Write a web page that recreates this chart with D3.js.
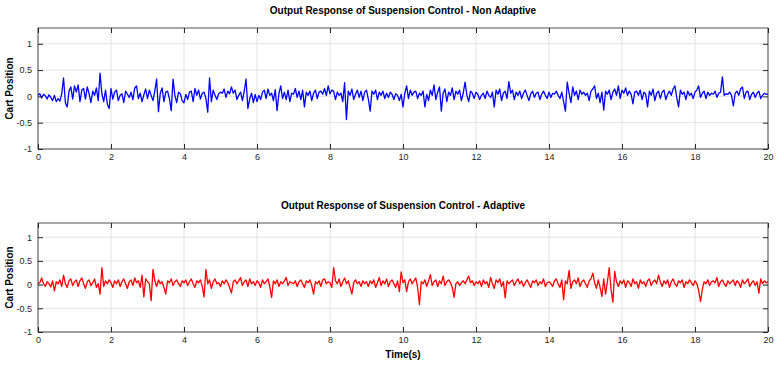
<!DOCTYPE html>
<html>
<head>
<meta charset="utf-8">
<script src="https://d3js.org/d3.v7.min.js"></script>
<style>
  body { margin: 0; background: #fff; }
  svg { display: block; font-family: "Liberation Sans", Arial, sans-serif; }
</style>
</head>
<body>
<svg id="chart"></svg>
<script>
const width = 776;
const height = 366;

// time step of the sampled signals (s)
const dt = 0.05;
const xTicks = [0, 2, 4, 6, 8, 10, 12, 14, 16, 18, 20];
const yTicks = [-1, -0.5, 0, 0.5, 1];

// Non adaptive response, one row per second
const nonAdaptive = [
  0.02,0.05,-0.03,0.04,0.01,-0.05,0.03,-0.02,-0.08,0.02,-0.1,-0.04,-0.09,0.05,0.35,-0.12,-0.2,0.1,0.18,-0.05,
  0.2,0.08,0.22,-0.1,0.12,0.15,-0.05,0.18,0.05,-0.12,0.1,0.02,0.16,-0.08,0.44,0.05,-0.1,0.12,-0.15,-0.23,
  0.15,-0.05,0.08,0.12,-0.08,0.02,0.05,-0.12,0.1,0.04,-0.02,0.08,-0.06,0.16,0.2,-0.04,0.06,-0.1,0.03,0.14,
  -0.04,0.12,0.02,-0.08,0.1,0.33,-0.29,0.06,0.16,-0.1,0.08,0.1,-0.04,-0.27,0.33,0.02,-0.12,0.08,0.05,-0.08,
  -0.12,0.04,-0.06,0.08,0.1,-0.1,0.15,0.02,0.12,-0.05,0.06,0.08,-0.04,-0.3,0.35,-0.1,0.12,0.02,-0.06,0.05,
  0.08,0.06,0.14,-0.02,0.1,0.05,0.18,0.06,0.12,-0.06,0.02,0.08,-0.08,0.1,0.33,-0.23,-0.05,0.06,-0.12,0.04,
  -0.1,0.02,-0.06,0.08,0.12,-0.04,0.14,0.02,0.06,-0.08,0.13,-0.27,0.05,0.2,-0.04,0.08,-0.06,0.12,-0.1,0.06,
  0.04,0.15,-0.02,0.1,-0.06,0.12,-0.2,0.08,0.02,0.1,-0.08,0.06,0.12,-0.04,0.08,0.1,0.04,0.15,0.02,0.2,
  0.05,0.12,0.1,-0.06,0.08,0.02,0.06,-0.1,0.26,-0.44,0.1,0.02,0.14,-0.06,0.04,0.12,-0.02,0.1,-0.08,0.08,
  0.12,-0.05,-0.28,0.1,0.04,0.12,-0.06,0.08,0.02,0.1,-0.04,0.06,-0.02,0.08,0.04,-0.06,0.05,0.02,-0.08,0.04,
  -0.2,0.06,0.2,-0.04,0.12,0.02,0.08,0.1,-0.04,0.06,0.02,0.1,-0.2,0.04,-0.08,0.12,0.02,0.22,-0.06,0.08,
  0.18,-0.28,0.06,0.14,-0.1,0.08,0.02,0.16,-0.06,0.1,0.04,0.12,-0.08,0.06,0.27,0.02,-0.1,0.1,0.06,-0.04,
  0.08,0.04,-0.06,0.02,0.06,-0.04,0.1,0.02,-0.02,0.08,-0.2,0.12,0.04,0.14,-0.08,0.06,0.1,-0.04,0.28,0.06,
  0.12,-0.06,0.08,0.02,0.1,-0.04,0.06,0.12,0.02,-0.08,0.05,0.1,-0.02,0.06,0.08,-0.06,0.04,0.1,0.02,-0.04,
  0.08,-0.02,0.06,0.04,0.1,0.02,-0.04,0.08,-0.1,-0.28,0.27,0.06,-0.12,0.18,0.02,0.1,-0.06,0.12,0.04,0.08,
  0.02,0.06,-0.08,0.1,0.14,0.2,-0.04,0.06,-0.12,0.08,-0.26,0.1,0.04,0.12,-0.06,0.08,0.14,0.02,0.2,-0.04,
  0.12,0.06,0.16,0.02,0.1,0.04,-0.14,0.08,0.1,0.02,0.12,-0.06,0.08,0.04,-0.2,0.1,0.02,0.14,-0.08,0.06,
  0.1,-0.04,0.08,0.12,-0.06,0.04,0.1,0.02,0.14,0.2,-0.02,-0.2,0.12,0.04,0.08,-0.06,0.1,0.02,0.06,-0.04,
  0.08,0.12,0.2,-0.02,0.06,0.1,-0.04,0.08,0.02,0.06,0.04,0.1,-0.02,0.06,0.08,0.37,0.02,0.05,0.04,0.08,
  0.02,-0.18,0.06,0.1,0.02,0.14,0.18,-0.04,0.08,0.1,-0.06,0.04,0.08,-0.02,0.06,0.1,-0.04,0.02,0.06,0.04,
  0.05
];

// Adaptive response, one row per second
const adaptive = [
  0.02,0.04,0.14,0.02,-0.04,0.06,0.02,-0.05,0.08,-0.13,0.06,0.02,0.1,-0.04,0.2,0.02,-0.06,0.08,0.12,-0.02,
  0.06,0.1,-0.04,0.08,0.14,0.02,-0.08,0.06,0.1,-0.02,0.04,0.12,-0.06,0.02,-0.2,0.36,-0.04,0.08,0.02,0.1,
  0.04,-0.06,0.08,0.02,0.1,-0.04,0.06,0.12,0.02,-0.08,0.06,0.1,-0.02,0.14,0.04,0.08,-0.06,0.2,-0.26,0.12,
  0.06,0.02,-0.34,0.32,0.08,-0.04,0.1,0.02,0.06,-0.06,-0.2,0.08,0.04,0.12,-0.02,0.06,0.1,0.02,-0.04,0.08,
  0.04,0.1,-0.02,0.06,0.12,0.02,-0.06,0.08,0.04,0.1,-0.04,-0.26,0.32,0.02,0.1,-0.08,0.06,0.12,0.02,0.04,
  -0.04,0.08,0.02,0.1,0.04,-0.06,-0.18,0.06,0.1,0.02,0.08,0.15,-0.02,0.06,0.1,-0.04,0.12,0.02,0.06,-0.02,
  0.08,0.04,-0.06,0.1,0.02,0.06,0.12,-0.04,-0.27,0.08,0.02,0.1,-0.04,0.06,0.02,0.08,0.15,-0.02,0.06,0.04,
  0.02,0.08,-0.04,0.06,0.1,0.02,-0.06,0.08,0.04,0.1,-0.02,-0.2,0.06,0.02,0.08,-0.04,0.1,0.12,0.02,0.06,
  0.04,-0.06,0.36,0.08,0.02,0.12,-0.04,0.06,0.14,0.02,0.08,-0.06,-0.2,0.04,0.1,0.02,0.06,-0.04,0.08,0.02,
  0.06,-0.04,0.08,0.02,0.1,-0.06,0.04,0.15,-0.02,0.08,0.02,0.12,-0.04,0.06,0.1,0.02,-0.06,0.08,-0.15,0.27,
  0.04,0.1,-0.15,0.06,0.12,0.02,0.08,0.14,-0.06,-0.42,0.06,0.02,0.1,-0.04,0.08,0.21,-0.02,0.06,0.1,-0.04,
  0.08,0.02,0.18,-0.02,0.06,0.1,0.04,-0.06,-0.27,0.02,0.06,-0.02,0.04,0.08,0.02,0.1,0.18,0.04,0.08,-0.02,
  0.06,0.02,0.08,-0.04,0.1,0.02,0.06,-0.06,0.15,0.02,-0.08,0.1,0.04,0.12,-0.04,0.06,-0.28,0.08,0.02,0.06,
  0.1,-0.02,0.06,0.12,0.02,0.08,-0.04,0.04,0.1,0.02,-0.06,0.08,0.04,0.1,-0.02,0.06,0.02,0.12,-0.04,0.04,
  0.06,0.02,-0.04,0.08,0.12,0.02,-0.06,0.1,-0.32,0.08,0.02,0.3,-0.08,0.06,0.1,0.02,0.14,-0.04,0.06,0.1,
  0.02,-0.06,0.08,0.12,0.24,0.04,-0.08,0.1,-0.06,-0.25,0.12,-0.2,0.06,0.36,-0.1,-0.37,0.28,0.06,-0.04,0.08,
  0.02,0.1,-0.06,0.08,0.04,-0.04,0.12,0.02,0.06,-0.08,0.1,0.02,0.06,-0.04,0.08,0.12,-0.02,0.06,0.1,0.02,
  0.2,0.06,-0.04,0.08,0.02,0.1,-0.06,0.06,0.12,0.02,-0.04,0.08,0.04,0.1,-0.06,0.06,0.02,0.1,0.04,-0.02,
  0.08,0.02,-0.12,-0.36,-0.1,0.06,0.02,0.1,-0.02,0.06,0.08,0.04,0.15,-0.04,0.06,0.1,0.02,-0.04,0.08,0.02,
  0.06,0.1,-0.02,0.08,0.04,-0.06,0.1,0.02,0.06,0.12,-0.04,0.04,0.08,-0.02,0.06,-0.18,0.12,0.02,0.08,0.04,
  0.06
];

const svg = d3.select("#chart")
  .attr("width", width)
  .attr("height", height);

// x scale shared by both panels
const x = d3.scaleLinear().domain([0, 20]).range([38, 768]);

function drawPanel(cfg) {
  const y = d3.scaleLinear().domain([-1, 1.3]).range([cfg.bottom, cfg.top]);
  const g = svg.append("g");

  // grid
  g.selectAll(".vgrid").data(xTicks).enter().append("line")
    .attr("x1", d => x(d)).attr("x2", d => x(d))
    .attr("y1", cfg.top).attr("y2", cfg.bottom)
    .attr("stroke", "#e3e3e3").attr("stroke-width", 1);
  g.selectAll(".hgrid").data(yTicks).enter().append("line")
    .attr("x1", x(0)).attr("x2", x(20))
    .attr("y1", d => y(d)).attr("y2", d => y(d))
    .attr("stroke", "#e3e3e3").attr("stroke-width", 1);

  // signal
  const line = d3.line()
    .x((d, i) => x(i * dt))
    .y(d => y(d));
  g.append("path")
    .datum(cfg.values)
    .attr("fill", "none")
    .attr("stroke", cfg.color)
    .attr("stroke-width", 1.3)
    .attr("stroke-linejoin", "round")
    .attr("d", line);

  // axes, ticks pointing inward
  const axisStyle = sel => {
    sel.select(".domain").remove();
    sel.selectAll("line").attr("stroke", "#262626");
    sel.selectAll("text").attr("fill", "#262626").style("font-size", "9px");
  };
  g.append("g").attr("transform", `translate(0,${cfg.bottom})`)
    .call(d3.axisBottom(x).tickValues(xTicks).tickSizeInner(-5).tickPadding(5).tickFormat(d3.format("d")))
    .call(axisStyle);
  g.append("g").attr("transform", `translate(0,${cfg.top})`)
    .call(d3.axisTop(x).tickValues(xTicks).tickSizeInner(-5).tickFormat(""))
    .call(axisStyle);
  g.append("g").attr("transform", `translate(${x(0)},0)`)
    .call(d3.axisLeft(y).tickValues(yTicks).tickSizeInner(-5).tickPadding(6).tickFormat(d => d))
    .call(axisStyle);
  g.append("g").attr("transform", `translate(${x(20)},0)`)
    .call(d3.axisRight(y).tickValues(yTicks).tickSizeInner(-5).tickFormat(""))
    .call(axisStyle);

  // box
  g.append("rect")
    .attr("x", x(0)).attr("y", cfg.top)
    .attr("width", x(20) - x(0)).attr("height", cfg.bottom - cfg.top)
    .attr("fill", "none").attr("stroke", "#262626").attr("stroke-width", 0.8);

  // title and y label
  g.append("text")
    .attr("x", (x(0) + x(20)) / 2).attr("y", cfg.top - 14)
    .attr("text-anchor", "middle")
    .style("font-size", "10px").style("font-weight", "bold")
    .text(cfg.title);
  g.append("text")
    .attr("transform", `translate(13,${(cfg.top + cfg.bottom) / 2}) rotate(-90)`)
    .attr("text-anchor", "middle")
    .style("font-size", "10px").style("font-weight", "bold")
    .text("Cart Position");
}

drawPanel({
  top: 28, bottom: 149, color: "#0000ff", values: nonAdaptive,
  title: "Output Response of Suspension Control - Non Adaptive"
});
drawPanel({
  top: 223, bottom: 332, color: "#ff0000", values: adaptive,
  title: "Output Response of Suspension Control - Adaptive"
});

// x axis label
svg.append("text")
  .attr("x", (x(0) + x(20)) / 2).attr("y", 358)
  .attr("text-anchor", "middle")
  .style("font-size", "10px").style("font-weight", "bold")
  .text("Time(s)");
</script>
</body>
</html>
